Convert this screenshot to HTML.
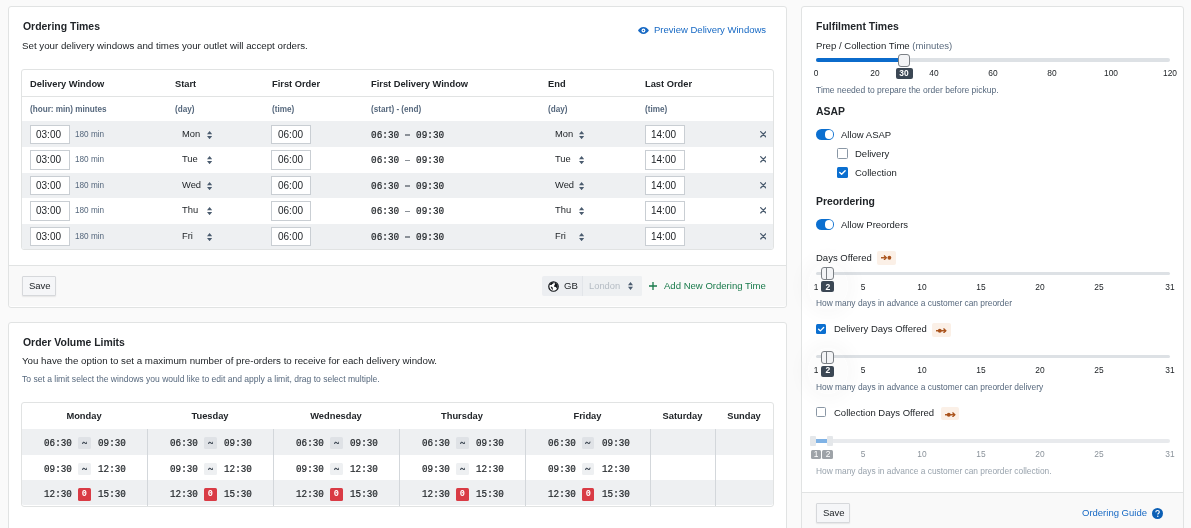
<!DOCTYPE html>
<html><head><meta charset="utf-8"><style>
html,body{margin:0;padding:0;background:#fafafa;width:1191px;height:528px;overflow:hidden;font-family:"Liberation Sans",sans-serif;}
.t{position:absolute;white-space:pre;line-height:20px;height:20px;will-change:transform;}
.b{position:absolute;}
</style></head><body>
<div class="b" style="left:8px;top:6px;width:779px;height:302px;background:#fff;border:1px solid #e1e3e3;border-radius:3px;box-sizing:border-box"></div>
<div class="b" style="left:9px;top:265px;width:777px;height:41px;background:#f9f9f9;border-top:1px solid #e1e3e3;border-radius:0 0 2px 2px;box-sizing:border-box"></div>
<div class="t" style="left:22.5px;top:17.38px;font-size:10.45px;font-weight:bold;color:#212529;font-family:'Liberation Sans', sans-serif;">Ordering Times</div>
<div class="t" style="left:22px;top:35.63px;font-size:9.72px;font-weight:normal;color:#212529;font-family:'Liberation Sans', sans-serif;">Set your delivery windows and times your outlet will accept orders.</div>
<svg class="b" style="left:637.9px;top:26.8px" width="10.9" height="7" viewBox="0 0 22 14"><path d="M11 0C6 0 2.2 3.6 0 7c2.2 3.4 6 7 11 7s8.8-3.6 11-7C19.8 3.6 16 0 11 0z" fill="#1769c4"/><circle cx="11" cy="7" r="3.9" fill="#fff"/><circle cx="11" cy="7" r="1.5" fill="#1769c4"/></svg>
<div class="t" style="left:653.7px;top:19.70px;font-size:9.53px;font-weight:normal;color:#1769c4;font-family:'Liberation Sans', sans-serif;">Preview Delivery Windows</div>
<div class="b" style="left:21px;top:69px;width:753px;height:181px;background:#fff;border:1px solid #e1e3e3;border-radius:3px;box-sizing:border-box"></div>
<div class="b" style="left:22px;top:96px;width:751px;height:1px;background:#e1e3e3"></div>
<div class="t" style="left:30px;top:74.28px;font-size:9.3px;font-weight:bold;color:#212529;font-family:'Liberation Sans', sans-serif;">Delivery Window</div>
<div class="t" style="left:30px;top:100.17px;font-size:8.16px;font-weight:bold;color:#56687d;font-family:'Liberation Sans', sans-serif;">(hour: min) minutes</div>
<div class="t" style="left:175.4px;top:74.28px;font-size:9.3px;font-weight:bold;color:#212529;font-family:'Liberation Sans', sans-serif;">Start</div>
<div class="t" style="left:175.4px;top:100.17px;font-size:8.16px;font-weight:bold;color:#56687d;font-family:'Liberation Sans', sans-serif;">(day)</div>
<div class="t" style="left:272px;top:74.28px;font-size:9.3px;font-weight:bold;color:#212529;font-family:'Liberation Sans', sans-serif;">First Order</div>
<div class="t" style="left:272px;top:100.17px;font-size:8.16px;font-weight:bold;color:#56687d;font-family:'Liberation Sans', sans-serif;">(time)</div>
<div class="t" style="left:371.4px;top:74.28px;font-size:9.3px;font-weight:bold;color:#212529;font-family:'Liberation Sans', sans-serif;">First Delivery Window</div>
<div class="t" style="left:371.4px;top:100.17px;font-size:8.16px;font-weight:bold;color:#56687d;font-family:'Liberation Sans', sans-serif;">(start) - (end)</div>
<div class="t" style="left:548.4px;top:74.28px;font-size:9.3px;font-weight:bold;color:#212529;font-family:'Liberation Sans', sans-serif;">End</div>
<div class="t" style="left:548.4px;top:100.17px;font-size:8.16px;font-weight:bold;color:#56687d;font-family:'Liberation Sans', sans-serif;">(day)</div>
<div class="t" style="left:645px;top:74.28px;font-size:9.3px;font-weight:bold;color:#212529;font-family:'Liberation Sans', sans-serif;">Last Order</div>
<div class="t" style="left:645px;top:100.17px;font-size:8.16px;font-weight:bold;color:#56687d;font-family:'Liberation Sans', sans-serif;">(time)</div>
<div class="b" style="left:22px;top:121px;width:751px;height:26px;background:#eef0f2"></div>
<div class="b" style="left:30px;top:124.65px;width:40px;height:19.6px;background:#fff;border:1px solid #c9ced3;box-sizing:border-box"></div>
<div class="t" style="left:36.2px;top:124.94px;font-size:10px;font-weight:normal;color:#212529;font-family:'Liberation Sans', sans-serif;">03:00</div>
<div class="b" style="left:271px;top:124.65px;width:40px;height:19.6px;background:#fff;border:1px solid #c9ced3;box-sizing:border-box"></div>
<div class="t" style="left:278.4px;top:124.94px;font-size:10px;font-weight:normal;color:#212529;font-family:'Liberation Sans', sans-serif;">06:00</div>
<div class="b" style="left:645px;top:124.65px;width:40px;height:19.6px;background:#fff;border:1px solid #c9ced3;box-sizing:border-box"></div>
<div class="t" style="left:651.2px;top:124.94px;font-size:10px;font-weight:normal;color:#212529;font-family:'Liberation Sans', sans-serif;">14:00</div>
<div class="t" style="left:74.6px;top:125.16px;font-size:8.2px;font-weight:normal;color:#56687d;font-family:'Liberation Sans', sans-serif;">180 min</div>
<div class="t" style="left:181.8px;top:123.76px;font-size:9.36px;font-weight:normal;color:#212529;font-family:'Liberation Sans', sans-serif;">Mon</div>
<svg class="b" style="left:206.6px;top:130.65px" width="5.2" height="8.2" viewBox="0 0 52 82"><path d="M26 0L52 32H0z M26 82L52 50H0z" fill="#4b5c6f"/></svg>
<div class="t" style="left:554.5px;top:123.76px;font-size:9.36px;font-weight:normal;color:#212529;font-family:'Liberation Sans', sans-serif;">Mon</div>
<svg class="b" style="left:579.3px;top:130.65px" width="5.2" height="8.2" viewBox="0 0 52 82"><path d="M26 0L52 32H0z M26 82L52 50H0z" fill="#4b5c6f"/></svg>
<div class="t" style="left:371px;top:125.99px;font-size:9.4px;font-weight:normal;color:#212529;font-family:'Liberation Mono', monospace;transform:scaleY(1.12);transform-origin:0 14px;-webkit-text-stroke:0.2px #212529">06:30   09:30</div>
<div class="b" style="left:405px;top:134.45px;width:5.2px;height:1.4px;background:#8a9097"></div>
<svg class="b" style="left:759.8px;top:130.95px" width="6.6" height="6.6" viewBox="0 0 10 10"><path d="M1 1L9 9M9 1L1 9" stroke="#4b5c6f" stroke-width="1.9" stroke-linecap="round"/></svg>
<div class="b" style="left:30px;top:150.15px;width:40px;height:19.6px;background:#fff;border:1px solid #c9ced3;box-sizing:border-box"></div>
<div class="t" style="left:36.2px;top:149.94px;font-size:10px;font-weight:normal;color:#212529;font-family:'Liberation Sans', sans-serif;">03:00</div>
<div class="b" style="left:271px;top:150.15px;width:40px;height:19.6px;background:#fff;border:1px solid #c9ced3;box-sizing:border-box"></div>
<div class="t" style="left:278.4px;top:149.94px;font-size:10px;font-weight:normal;color:#212529;font-family:'Liberation Sans', sans-serif;">06:00</div>
<div class="b" style="left:645px;top:150.15px;width:40px;height:19.6px;background:#fff;border:1px solid #c9ced3;box-sizing:border-box"></div>
<div class="t" style="left:651.2px;top:149.94px;font-size:10px;font-weight:normal;color:#212529;font-family:'Liberation Sans', sans-serif;">14:00</div>
<div class="t" style="left:74.6px;top:150.16px;font-size:8.2px;font-weight:normal;color:#56687d;font-family:'Liberation Sans', sans-serif;">180 min</div>
<div class="t" style="left:181.8px;top:148.76px;font-size:9.36px;font-weight:normal;color:#212529;font-family:'Liberation Sans', sans-serif;">Tue</div>
<svg class="b" style="left:206.6px;top:156.15px" width="5.2" height="8.2" viewBox="0 0 52 82"><path d="M26 0L52 32H0z M26 82L52 50H0z" fill="#4b5c6f"/></svg>
<div class="t" style="left:554.5px;top:148.76px;font-size:9.36px;font-weight:normal;color:#212529;font-family:'Liberation Sans', sans-serif;">Tue</div>
<svg class="b" style="left:579.3px;top:156.15px" width="5.2" height="8.2" viewBox="0 0 52 82"><path d="M26 0L52 32H0z M26 82L52 50H0z" fill="#4b5c6f"/></svg>
<div class="t" style="left:371px;top:150.99px;font-size:9.4px;font-weight:normal;color:#212529;font-family:'Liberation Mono', monospace;transform:scaleY(1.12);transform-origin:0 14px;-webkit-text-stroke:0.2px #212529">06:30   09:30</div>
<div class="b" style="left:405px;top:159.95px;width:5.2px;height:1.4px;background:#8a9097"></div>
<svg class="b" style="left:759.8px;top:156.45px" width="6.6" height="6.6" viewBox="0 0 10 10"><path d="M1 1L9 9M9 1L1 9" stroke="#4b5c6f" stroke-width="1.9" stroke-linecap="round"/></svg>
<div class="b" style="left:22px;top:172.5px;width:751px;height:25.5px;background:#eef0f2"></div>
<div class="b" style="left:30px;top:175.65px;width:40px;height:19.6px;background:#fff;border:1px solid #c9ced3;box-sizing:border-box"></div>
<div class="t" style="left:36.2px;top:175.94px;font-size:10px;font-weight:normal;color:#212529;font-family:'Liberation Sans', sans-serif;">03:00</div>
<div class="b" style="left:271px;top:175.65px;width:40px;height:19.6px;background:#fff;border:1px solid #c9ced3;box-sizing:border-box"></div>
<div class="t" style="left:278.4px;top:175.94px;font-size:10px;font-weight:normal;color:#212529;font-family:'Liberation Sans', sans-serif;">06:00</div>
<div class="b" style="left:645px;top:175.65px;width:40px;height:19.6px;background:#fff;border:1px solid #c9ced3;box-sizing:border-box"></div>
<div class="t" style="left:651.2px;top:175.94px;font-size:10px;font-weight:normal;color:#212529;font-family:'Liberation Sans', sans-serif;">14:00</div>
<div class="t" style="left:74.6px;top:176.16px;font-size:8.2px;font-weight:normal;color:#56687d;font-family:'Liberation Sans', sans-serif;">180 min</div>
<div class="t" style="left:181.8px;top:174.76px;font-size:9.36px;font-weight:normal;color:#212529;font-family:'Liberation Sans', sans-serif;">Wed</div>
<svg class="b" style="left:206.6px;top:181.65px" width="5.2" height="8.2" viewBox="0 0 52 82"><path d="M26 0L52 32H0z M26 82L52 50H0z" fill="#4b5c6f"/></svg>
<div class="t" style="left:554.5px;top:174.76px;font-size:9.36px;font-weight:normal;color:#212529;font-family:'Liberation Sans', sans-serif;">Wed</div>
<svg class="b" style="left:579.3px;top:181.65px" width="5.2" height="8.2" viewBox="0 0 52 82"><path d="M26 0L52 32H0z M26 82L52 50H0z" fill="#4b5c6f"/></svg>
<div class="t" style="left:371px;top:176.99px;font-size:9.4px;font-weight:normal;color:#212529;font-family:'Liberation Mono', monospace;transform:scaleY(1.12);transform-origin:0 14px;-webkit-text-stroke:0.2px #212529">06:30   09:30</div>
<div class="b" style="left:405px;top:185.45px;width:5.2px;height:1.4px;background:#8a9097"></div>
<svg class="b" style="left:759.8px;top:181.95px" width="6.6" height="6.6" viewBox="0 0 10 10"><path d="M1 1L9 9M9 1L1 9" stroke="#4b5c6f" stroke-width="1.9" stroke-linecap="round"/></svg>
<div class="b" style="left:30px;top:201.15px;width:40px;height:19.6px;background:#fff;border:1px solid #c9ced3;box-sizing:border-box"></div>
<div class="t" style="left:36.2px;top:200.94px;font-size:10px;font-weight:normal;color:#212529;font-family:'Liberation Sans', sans-serif;">03:00</div>
<div class="b" style="left:271px;top:201.15px;width:40px;height:19.6px;background:#fff;border:1px solid #c9ced3;box-sizing:border-box"></div>
<div class="t" style="left:278.4px;top:200.94px;font-size:10px;font-weight:normal;color:#212529;font-family:'Liberation Sans', sans-serif;">06:00</div>
<div class="b" style="left:645px;top:201.15px;width:40px;height:19.6px;background:#fff;border:1px solid #c9ced3;box-sizing:border-box"></div>
<div class="t" style="left:651.2px;top:200.94px;font-size:10px;font-weight:normal;color:#212529;font-family:'Liberation Sans', sans-serif;">14:00</div>
<div class="t" style="left:74.6px;top:201.16px;font-size:8.2px;font-weight:normal;color:#56687d;font-family:'Liberation Sans', sans-serif;">180 min</div>
<div class="t" style="left:181.8px;top:199.76px;font-size:9.36px;font-weight:normal;color:#212529;font-family:'Liberation Sans', sans-serif;">Thu</div>
<svg class="b" style="left:206.6px;top:207.15px" width="5.2" height="8.2" viewBox="0 0 52 82"><path d="M26 0L52 32H0z M26 82L52 50H0z" fill="#4b5c6f"/></svg>
<div class="t" style="left:554.5px;top:199.76px;font-size:9.36px;font-weight:normal;color:#212529;font-family:'Liberation Sans', sans-serif;">Thu</div>
<svg class="b" style="left:579.3px;top:207.15px" width="5.2" height="8.2" viewBox="0 0 52 82"><path d="M26 0L52 32H0z M26 82L52 50H0z" fill="#4b5c6f"/></svg>
<div class="t" style="left:371px;top:201.99px;font-size:9.4px;font-weight:normal;color:#212529;font-family:'Liberation Mono', monospace;transform:scaleY(1.12);transform-origin:0 14px;-webkit-text-stroke:0.2px #212529">06:30   09:30</div>
<div class="b" style="left:405px;top:210.95px;width:5.2px;height:1.4px;background:#8a9097"></div>
<svg class="b" style="left:759.8px;top:207.45px" width="6.6" height="6.6" viewBox="0 0 10 10"><path d="M1 1L9 9M9 1L1 9" stroke="#4b5c6f" stroke-width="1.9" stroke-linecap="round"/></svg>
<div class="b" style="left:22px;top:223.5px;width:751px;height:25.5px;background:#eef0f2;border-radius:0 0 2px 2px"></div>
<div class="b" style="left:30px;top:226.65px;width:40px;height:19.6px;background:#fff;border:1px solid #c9ced3;box-sizing:border-box"></div>
<div class="t" style="left:36.2px;top:226.94px;font-size:10px;font-weight:normal;color:#212529;font-family:'Liberation Sans', sans-serif;">03:00</div>
<div class="b" style="left:271px;top:226.65px;width:40px;height:19.6px;background:#fff;border:1px solid #c9ced3;box-sizing:border-box"></div>
<div class="t" style="left:278.4px;top:226.94px;font-size:10px;font-weight:normal;color:#212529;font-family:'Liberation Sans', sans-serif;">06:00</div>
<div class="b" style="left:645px;top:226.65px;width:40px;height:19.6px;background:#fff;border:1px solid #c9ced3;box-sizing:border-box"></div>
<div class="t" style="left:651.2px;top:226.94px;font-size:10px;font-weight:normal;color:#212529;font-family:'Liberation Sans', sans-serif;">14:00</div>
<div class="t" style="left:74.6px;top:227.16px;font-size:8.2px;font-weight:normal;color:#56687d;font-family:'Liberation Sans', sans-serif;">180 min</div>
<div class="t" style="left:181.8px;top:225.76px;font-size:9.36px;font-weight:normal;color:#212529;font-family:'Liberation Sans', sans-serif;">Fri</div>
<svg class="b" style="left:206.6px;top:232.65px" width="5.2" height="8.2" viewBox="0 0 52 82"><path d="M26 0L52 32H0z M26 82L52 50H0z" fill="#4b5c6f"/></svg>
<div class="t" style="left:554.5px;top:225.76px;font-size:9.36px;font-weight:normal;color:#212529;font-family:'Liberation Sans', sans-serif;">Fri</div>
<svg class="b" style="left:579.3px;top:232.65px" width="5.2" height="8.2" viewBox="0 0 52 82"><path d="M26 0L52 32H0z M26 82L52 50H0z" fill="#4b5c6f"/></svg>
<div class="t" style="left:371px;top:227.99px;font-size:9.4px;font-weight:normal;color:#212529;font-family:'Liberation Mono', monospace;transform:scaleY(1.12);transform-origin:0 14px;-webkit-text-stroke:0.2px #212529">06:30   09:30</div>
<div class="b" style="left:405px;top:236.45px;width:5.2px;height:1.4px;background:#8a9097"></div>
<svg class="b" style="left:759.8px;top:232.95px" width="6.6" height="6.6" viewBox="0 0 10 10"><path d="M1 1L9 9M9 1L1 9" stroke="#4b5c6f" stroke-width="1.9" stroke-linecap="round"/></svg>
<div class="b" style="left:22.2px;top:276.2px;width:33.6px;height:19.4px;background:#f5f6f8;border:1px solid #d6d8db;border-radius:1px;box-sizing:border-box;box-shadow:0 1px 1.5px rgba(0,0,0,.08)"></div>
<div class="t" style="left:29.0px;top:275.71px;font-size:9.5px;font-weight:normal;color:#212529;font-family:'Liberation Sans', sans-serif;">Save</div>
<div class="b" style="left:542px;top:276px;width:100px;height:19.6px;background:#eceef1;border-radius:2px"></div>
<div class="b" style="left:582.4px;top:276px;width:59.6px;height:19.6px;background:#eef0f2;border-left:1px solid #e2e5e9;box-sizing:border-box;border-radius:0 2px 2px 0"></div>
<svg class="b" style="left:547.8px;top:280.8px" width="11" height="11" viewBox="0 0 20 20"><circle cx="10" cy="10" r="8.6" fill="#fff" stroke="#111418" stroke-width="2.2"/><path d="M3 7C4 4 6.5 2.5 9.5 2.2L10.5 3.5C9.5 5 8 4.8 7.2 6.2 6.4 7.6 4.6 7.4 3 7z" fill="#111418"/><path d="M12.5 3C15 3.8 17 5.8 17.6 8.5 17.8 10.5 17.5 12.5 16.5 14 15.5 13 15 11.5 13.8 11 12.6 10.4 11.2 10.8 10.8 9.6 10.4 8.4 12 7.8 12.4 6.6 12.8 5.4 11.8 4.2 12.5 3z" fill="#111418"/><path d="M5 10.5C6.5 10 8 11 8.6 12.4 9 13.6 8.2 15 8.8 16.4 7.4 16 6.6 14.6 6.2 13.2 5.8 12.2 4.8 11.6 5 10.5z" fill="#111418"/></svg>
<div class="t" style="left:563.9px;top:275.67px;font-size:9.6px;font-weight:normal;color:#212529;font-family:'Liberation Sans', sans-serif;">GB</div>
<div class="t" style="left:589.4px;top:275.76px;font-size:9.35px;font-weight:normal;color:#b5bcc4;font-family:'Liberation Sans', sans-serif;">London</div>
<svg class="b" style="left:627.6px;top:281.5px" width="5" height="8" viewBox="0 0 52 82"><path d="M26 0L52 32H0z M26 82L52 50H0z" fill="#4b5c6f"/></svg>
<svg class="b" style="left:649.4px;top:281.6px" width="8" height="8" viewBox="0 0 8 8"><path d="M4 0V8M0 4H8" stroke="#197a4b" stroke-width="1.3"/></svg>
<div class="t" style="left:663.8px;top:275.69px;font-size:9.56px;font-weight:normal;color:#197a4b;font-family:'Liberation Sans', sans-serif;">Add New Ordering Time</div>
<div class="b" style="left:8px;top:322px;width:779px;height:220px;background:#fff;border:1px solid #e1e3e3;border-radius:3px;box-sizing:border-box"></div>
<div class="t" style="left:22.6px;top:333.38px;font-size:10.45px;font-weight:bold;color:#212529;font-family:'Liberation Sans', sans-serif;">Order Volume Limits</div>
<div class="t" style="left:22px;top:350.63px;font-size:9.72px;font-weight:normal;color:#212529;font-family:'Liberation Sans', sans-serif;">You have the option to set a maximum number of pre-orders to receive for each delivery window.</div>
<div class="t" style="left:22px;top:369.03px;font-size:8.56px;font-weight:normal;color:#56687d;font-family:'Liberation Sans', sans-serif;">To set a limit select the windows you would like to edit and apply a limit, drag to select multiple.</div>
<div class="b" style="left:21px;top:402px;width:753px;height:104.5px;background:#fff;border:1px solid #e1e3e3;border-radius:3px;box-sizing:border-box"></div>
<div class="b" style="left:22px;top:429px;width:751px;height:26px;background:#eef0f2"></div>
<div class="b" style="left:22px;top:480.3px;width:751px;height:25.2px;background:#eef0f2;border-radius:0 0 2px 2px"></div>
<div class="b" style="left:147px;top:429px;width:1px;height:76.5px;background:#d3d7db"></div>
<div class="b" style="left:273px;top:429px;width:1px;height:76.5px;background:#d3d7db"></div>
<div class="b" style="left:399px;top:429px;width:1px;height:76.5px;background:#d3d7db"></div>
<div class="b" style="left:525px;top:429px;width:1px;height:76.5px;background:#d3d7db"></div>
<div class="b" style="left:650px;top:429px;width:1px;height:76.5px;background:#d3d7db"></div>
<div class="b" style="left:715px;top:429px;width:1px;height:76.5px;background:#d3d7db"></div>
<div class="t" style="left:21px;width:126px;text-align:center;top:405.78px;font-size:9.3px;font-weight:bold;color:#212529">Monday</div>
<div class="t" style="left:147px;width:126px;text-align:center;top:405.78px;font-size:9.3px;font-weight:bold;color:#212529">Tuesday</div>
<div class="t" style="left:273px;width:126px;text-align:center;top:405.78px;font-size:9.3px;font-weight:bold;color:#212529">Wednesday</div>
<div class="t" style="left:399px;width:126px;text-align:center;top:405.78px;font-size:9.3px;font-weight:bold;color:#212529">Thursday</div>
<div class="t" style="left:525px;width:125px;text-align:center;top:405.78px;font-size:9.3px;font-weight:bold;color:#212529">Friday</div>
<div class="t" style="left:650px;width:65px;text-align:center;top:405.78px;font-size:9.3px;font-weight:bold;color:#212529">Saturday</div>
<div class="t" style="left:715px;width:58px;text-align:center;top:405.78px;font-size:9.3px;font-weight:bold;color:#212529">Sunday</div>
<div class="t" style="left:44.4px;top:434.02px;font-size:9.3px;font-weight:normal;color:#212529;font-family:'Liberation Mono', monospace;transform:scaleY(1.12);transform-origin:0 14px;-webkit-text-stroke:0.2px #212529">06:30</div>
<div class="b" style="left:78.2px;top:436.7px;width:12.6px;height:12.6px;background:#dfe2e6;border-radius:1.5px"></div>
<svg class="b" style="left:81.7px;top:440.70px" width="5.6" height="3.8" viewBox="0 0 56 38"><path d="M6 28C9 12 18 8 28 18S46 28 50 10" stroke="#3a4450" stroke-width="11" fill="none" stroke-linecap="round"/></svg>
<div class="t" style="left:98.0px;top:434.02px;font-size:9.3px;font-weight:normal;color:#212529;font-family:'Liberation Mono', monospace;transform:scaleY(1.12);transform-origin:0 14px;-webkit-text-stroke:0.2px #212529">09:30</div>
<div class="t" style="left:44.4px;top:460.02px;font-size:9.3px;font-weight:normal;color:#212529;font-family:'Liberation Mono', monospace;transform:scaleY(1.12);transform-origin:0 14px;-webkit-text-stroke:0.2px #212529">09:30</div>
<div class="b" style="left:78.2px;top:462.7px;width:12.6px;height:12.6px;background:#eef0f2;border-radius:1.5px"></div>
<svg class="b" style="left:81.7px;top:466.70px" width="5.6" height="3.8" viewBox="0 0 56 38"><path d="M6 28C9 12 18 8 28 18S46 28 50 10" stroke="#3a4450" stroke-width="11" fill="none" stroke-linecap="round"/></svg>
<div class="t" style="left:98.0px;top:460.02px;font-size:9.3px;font-weight:normal;color:#212529;font-family:'Liberation Mono', monospace;transform:scaleY(1.12);transform-origin:0 14px;-webkit-text-stroke:0.2px #212529">12:30</div>
<div class="t" style="left:44.4px;top:485.02px;font-size:9.3px;font-weight:normal;color:#212529;font-family:'Liberation Mono', monospace;transform:scaleY(1.12);transform-origin:0 14px;-webkit-text-stroke:0.2px #212529">12:30</div>
<div class="b" style="left:78.2px;top:488.3px;width:12.6px;height:12.4px;background:#d93b45;border-radius:1.5px"></div>
<div class="t" style="left:78.2px;width:12.6px;text-align:center;top:483.51px;font-size:8.6px;font-weight:bold;color:#fff;font-family:'Liberation Mono',monospace">0</div>
<div class="t" style="left:98.0px;top:485.02px;font-size:9.3px;font-weight:normal;color:#212529;font-family:'Liberation Mono', monospace;transform:scaleY(1.12);transform-origin:0 14px;-webkit-text-stroke:0.2px #212529">15:30</div>
<div class="t" style="left:170.4px;top:434.02px;font-size:9.3px;font-weight:normal;color:#212529;font-family:'Liberation Mono', monospace;transform:scaleY(1.12);transform-origin:0 14px;-webkit-text-stroke:0.2px #212529">06:30</div>
<div class="b" style="left:204.2px;top:436.7px;width:12.6px;height:12.6px;background:#dfe2e6;border-radius:1.5px"></div>
<svg class="b" style="left:207.7px;top:440.70px" width="5.6" height="3.8" viewBox="0 0 56 38"><path d="M6 28C9 12 18 8 28 18S46 28 50 10" stroke="#3a4450" stroke-width="11" fill="none" stroke-linecap="round"/></svg>
<div class="t" style="left:224.0px;top:434.02px;font-size:9.3px;font-weight:normal;color:#212529;font-family:'Liberation Mono', monospace;transform:scaleY(1.12);transform-origin:0 14px;-webkit-text-stroke:0.2px #212529">09:30</div>
<div class="t" style="left:170.4px;top:460.02px;font-size:9.3px;font-weight:normal;color:#212529;font-family:'Liberation Mono', monospace;transform:scaleY(1.12);transform-origin:0 14px;-webkit-text-stroke:0.2px #212529">09:30</div>
<div class="b" style="left:204.2px;top:462.7px;width:12.6px;height:12.6px;background:#eef0f2;border-radius:1.5px"></div>
<svg class="b" style="left:207.7px;top:466.70px" width="5.6" height="3.8" viewBox="0 0 56 38"><path d="M6 28C9 12 18 8 28 18S46 28 50 10" stroke="#3a4450" stroke-width="11" fill="none" stroke-linecap="round"/></svg>
<div class="t" style="left:224.0px;top:460.02px;font-size:9.3px;font-weight:normal;color:#212529;font-family:'Liberation Mono', monospace;transform:scaleY(1.12);transform-origin:0 14px;-webkit-text-stroke:0.2px #212529">12:30</div>
<div class="t" style="left:170.4px;top:485.02px;font-size:9.3px;font-weight:normal;color:#212529;font-family:'Liberation Mono', monospace;transform:scaleY(1.12);transform-origin:0 14px;-webkit-text-stroke:0.2px #212529">12:30</div>
<div class="b" style="left:204.2px;top:488.3px;width:12.6px;height:12.4px;background:#d93b45;border-radius:1.5px"></div>
<div class="t" style="left:204.2px;width:12.6px;text-align:center;top:483.51px;font-size:8.6px;font-weight:bold;color:#fff;font-family:'Liberation Mono',monospace">0</div>
<div class="t" style="left:224.0px;top:485.02px;font-size:9.3px;font-weight:normal;color:#212529;font-family:'Liberation Mono', monospace;transform:scaleY(1.12);transform-origin:0 14px;-webkit-text-stroke:0.2px #212529">15:30</div>
<div class="t" style="left:296.4px;top:434.02px;font-size:9.3px;font-weight:normal;color:#212529;font-family:'Liberation Mono', monospace;transform:scaleY(1.12);transform-origin:0 14px;-webkit-text-stroke:0.2px #212529">06:30</div>
<div class="b" style="left:330.2px;top:436.7px;width:12.6px;height:12.6px;background:#dfe2e6;border-radius:1.5px"></div>
<svg class="b" style="left:333.7px;top:440.70px" width="5.6" height="3.8" viewBox="0 0 56 38"><path d="M6 28C9 12 18 8 28 18S46 28 50 10" stroke="#3a4450" stroke-width="11" fill="none" stroke-linecap="round"/></svg>
<div class="t" style="left:350.0px;top:434.02px;font-size:9.3px;font-weight:normal;color:#212529;font-family:'Liberation Mono', monospace;transform:scaleY(1.12);transform-origin:0 14px;-webkit-text-stroke:0.2px #212529">09:30</div>
<div class="t" style="left:296.4px;top:460.02px;font-size:9.3px;font-weight:normal;color:#212529;font-family:'Liberation Mono', monospace;transform:scaleY(1.12);transform-origin:0 14px;-webkit-text-stroke:0.2px #212529">09:30</div>
<div class="b" style="left:330.2px;top:462.7px;width:12.6px;height:12.6px;background:#eef0f2;border-radius:1.5px"></div>
<svg class="b" style="left:333.7px;top:466.70px" width="5.6" height="3.8" viewBox="0 0 56 38"><path d="M6 28C9 12 18 8 28 18S46 28 50 10" stroke="#3a4450" stroke-width="11" fill="none" stroke-linecap="round"/></svg>
<div class="t" style="left:350.0px;top:460.02px;font-size:9.3px;font-weight:normal;color:#212529;font-family:'Liberation Mono', monospace;transform:scaleY(1.12);transform-origin:0 14px;-webkit-text-stroke:0.2px #212529">12:30</div>
<div class="t" style="left:296.4px;top:485.02px;font-size:9.3px;font-weight:normal;color:#212529;font-family:'Liberation Mono', monospace;transform:scaleY(1.12);transform-origin:0 14px;-webkit-text-stroke:0.2px #212529">12:30</div>
<div class="b" style="left:330.2px;top:488.3px;width:12.6px;height:12.4px;background:#d93b45;border-radius:1.5px"></div>
<div class="t" style="left:330.2px;width:12.6px;text-align:center;top:483.51px;font-size:8.6px;font-weight:bold;color:#fff;font-family:'Liberation Mono',monospace">0</div>
<div class="t" style="left:350.0px;top:485.02px;font-size:9.3px;font-weight:normal;color:#212529;font-family:'Liberation Mono', monospace;transform:scaleY(1.12);transform-origin:0 14px;-webkit-text-stroke:0.2px #212529">15:30</div>
<div class="t" style="left:422.4px;top:434.02px;font-size:9.3px;font-weight:normal;color:#212529;font-family:'Liberation Mono', monospace;transform:scaleY(1.12);transform-origin:0 14px;-webkit-text-stroke:0.2px #212529">06:30</div>
<div class="b" style="left:456.2px;top:436.7px;width:12.6px;height:12.6px;background:#dfe2e6;border-radius:1.5px"></div>
<svg class="b" style="left:459.7px;top:440.70px" width="5.6" height="3.8" viewBox="0 0 56 38"><path d="M6 28C9 12 18 8 28 18S46 28 50 10" stroke="#3a4450" stroke-width="11" fill="none" stroke-linecap="round"/></svg>
<div class="t" style="left:476.0px;top:434.02px;font-size:9.3px;font-weight:normal;color:#212529;font-family:'Liberation Mono', monospace;transform:scaleY(1.12);transform-origin:0 14px;-webkit-text-stroke:0.2px #212529">09:30</div>
<div class="t" style="left:422.4px;top:460.02px;font-size:9.3px;font-weight:normal;color:#212529;font-family:'Liberation Mono', monospace;transform:scaleY(1.12);transform-origin:0 14px;-webkit-text-stroke:0.2px #212529">09:30</div>
<div class="b" style="left:456.2px;top:462.7px;width:12.6px;height:12.6px;background:#eef0f2;border-radius:1.5px"></div>
<svg class="b" style="left:459.7px;top:466.70px" width="5.6" height="3.8" viewBox="0 0 56 38"><path d="M6 28C9 12 18 8 28 18S46 28 50 10" stroke="#3a4450" stroke-width="11" fill="none" stroke-linecap="round"/></svg>
<div class="t" style="left:476.0px;top:460.02px;font-size:9.3px;font-weight:normal;color:#212529;font-family:'Liberation Mono', monospace;transform:scaleY(1.12);transform-origin:0 14px;-webkit-text-stroke:0.2px #212529">12:30</div>
<div class="t" style="left:422.4px;top:485.02px;font-size:9.3px;font-weight:normal;color:#212529;font-family:'Liberation Mono', monospace;transform:scaleY(1.12);transform-origin:0 14px;-webkit-text-stroke:0.2px #212529">12:30</div>
<div class="b" style="left:456.2px;top:488.3px;width:12.6px;height:12.4px;background:#d93b45;border-radius:1.5px"></div>
<div class="t" style="left:456.2px;width:12.6px;text-align:center;top:483.51px;font-size:8.6px;font-weight:bold;color:#fff;font-family:'Liberation Mono',monospace">0</div>
<div class="t" style="left:476.0px;top:485.02px;font-size:9.3px;font-weight:normal;color:#212529;font-family:'Liberation Mono', monospace;transform:scaleY(1.12);transform-origin:0 14px;-webkit-text-stroke:0.2px #212529">15:30</div>
<div class="t" style="left:547.9px;top:434.02px;font-size:9.3px;font-weight:normal;color:#212529;font-family:'Liberation Mono', monospace;transform:scaleY(1.12);transform-origin:0 14px;-webkit-text-stroke:0.2px #212529">06:30</div>
<div class="b" style="left:581.7px;top:436.7px;width:12.6px;height:12.6px;background:#dfe2e6;border-radius:1.5px"></div>
<svg class="b" style="left:585.2px;top:440.70px" width="5.6" height="3.8" viewBox="0 0 56 38"><path d="M6 28C9 12 18 8 28 18S46 28 50 10" stroke="#3a4450" stroke-width="11" fill="none" stroke-linecap="round"/></svg>
<div class="t" style="left:601.5px;top:434.02px;font-size:9.3px;font-weight:normal;color:#212529;font-family:'Liberation Mono', monospace;transform:scaleY(1.12);transform-origin:0 14px;-webkit-text-stroke:0.2px #212529">09:30</div>
<div class="t" style="left:547.9px;top:460.02px;font-size:9.3px;font-weight:normal;color:#212529;font-family:'Liberation Mono', monospace;transform:scaleY(1.12);transform-origin:0 14px;-webkit-text-stroke:0.2px #212529">09:30</div>
<div class="b" style="left:581.7px;top:462.7px;width:12.6px;height:12.6px;background:#eef0f2;border-radius:1.5px"></div>
<svg class="b" style="left:585.2px;top:466.70px" width="5.6" height="3.8" viewBox="0 0 56 38"><path d="M6 28C9 12 18 8 28 18S46 28 50 10" stroke="#3a4450" stroke-width="11" fill="none" stroke-linecap="round"/></svg>
<div class="t" style="left:601.5px;top:460.02px;font-size:9.3px;font-weight:normal;color:#212529;font-family:'Liberation Mono', monospace;transform:scaleY(1.12);transform-origin:0 14px;-webkit-text-stroke:0.2px #212529">12:30</div>
<div class="t" style="left:547.9px;top:485.02px;font-size:9.3px;font-weight:normal;color:#212529;font-family:'Liberation Mono', monospace;transform:scaleY(1.12);transform-origin:0 14px;-webkit-text-stroke:0.2px #212529">12:30</div>
<div class="b" style="left:581.7px;top:488.3px;width:12.6px;height:12.4px;background:#d93b45;border-radius:1.5px"></div>
<div class="t" style="left:581.7px;width:12.6px;text-align:center;top:483.51px;font-size:8.6px;font-weight:bold;color:#fff;font-family:'Liberation Mono',monospace">0</div>
<div class="t" style="left:601.5px;top:485.02px;font-size:9.3px;font-weight:normal;color:#212529;font-family:'Liberation Mono', monospace;transform:scaleY(1.12);transform-origin:0 14px;-webkit-text-stroke:0.2px #212529">15:30</div>
<div class="b" style="left:801px;top:6px;width:383px;height:540px;background:#fff;border:1px solid #e1e3e3;border-radius:3px;box-sizing:border-box"></div>
<div class="b" style="left:802px;top:492px;width:381px;height:60px;background:#f9f9f9;border-top:1px solid #e1e3e3;box-sizing:border-box"></div>
<div class="t" style="left:816.4px;top:17.18px;font-size:10.45px;font-weight:bold;color:#212529;font-family:'Liberation Sans', sans-serif;">Fulfilment Times</div>
<div class="t" style="left:816.4px;top:35.68px;font-size:9.58px;font-weight:normal;color:#212529;font-family:'Liberation Sans', sans-serif;">Prep / Collection Time <span style="color:#5b6b7e">(minutes)</span></div>
<div class="b" style="left:816px;top:58px;width:354px;height:4px;background:#dde1e5;border-radius:2px"></div>
<div class="b" style="left:816px;top:58px;width:88px;height:4px;background:#0b6bcb;border-radius:2px 0 0 2px"></div>
<div class="t" style="left:796.0px;width:40px;text-align:center;top:63.09px;font-size:8.4px;color:#212529;font-weight:normal">0</div>
<div class="t" style="left:854.9166666666666px;width:40px;text-align:center;top:63.09px;font-size:8.4px;color:#212529;font-weight:normal">20</div>
<div class="t" style="left:913.8333333333334px;width:40px;text-align:center;top:63.09px;font-size:8.4px;color:#212529;font-weight:normal">40</div>
<div class="t" style="left:972.75px;width:40px;text-align:center;top:63.09px;font-size:8.4px;color:#212529;font-weight:normal">60</div>
<div class="t" style="left:1031.6666666666667px;width:40px;text-align:center;top:63.09px;font-size:8.4px;color:#212529;font-weight:normal">80</div>
<div class="t" style="left:1090.5833333333335px;width:40px;text-align:center;top:63.09px;font-size:8.4px;color:#212529;font-weight:normal">100</div>
<div class="t" style="left:1149.5px;width:40px;text-align:center;top:63.09px;font-size:8.4px;color:#212529;font-weight:normal">120</div>
<div class="b" style="left:898.2px;top:54.2px;width:11.7px;height:12.4px;background:#f3f4f6;border:1px solid #7b8085;border-radius:3px;box-sizing:border-box"></div>
<div class="b" style="left:895.8px;top:68.2px;width:17px;height:10.6px;background:#3b4754;border-radius:2px"></div>
<div class="t" style="left:884.2px;width:40px;text-align:center;top:63.09px;font-size:8.4px;color:#fff;font-weight:bold">30</div>
<div class="t" style="left:816px;top:80.05px;font-size:8.5px;font-weight:normal;color:#56687d;font-family:'Liberation Sans', sans-serif;">Time needed to prepare the order before pickup.</div>
<div class="t" style="left:816.1px;top:102.40px;font-size:10.4px;font-weight:bold;color:#212529;font-family:'Liberation Sans', sans-serif;">ASAP</div>
<div class="b" style="left:816px;top:129px;width:18px;height:11px;background:#0b6fd0;border-radius:6px"></div>
<div class="b" style="left:824.7px;top:130.2px;width:8.6px;height:8.6px;background:#fff;border-radius:50%"></div>
<div class="t" style="left:841.3px;top:124.71px;font-size:9.5px;font-weight:normal;color:#212529;font-family:'Liberation Sans', sans-serif;">Allow ASAP</div>
<div class="b" style="left:837px;top:148.1px;width:10.8px;height:10.8px;background:#fff;border:1px solid #8a97a5;border-radius:1.5px;box-sizing:border-box"></div>
<div class="t" style="left:854.7px;top:143.71px;font-size:9.5px;font-weight:normal;color:#212529;font-family:'Liberation Sans', sans-serif;">Delivery</div>
<div class="b" style="left:837px;top:166.8px;width:10.8px;height:10.8px;background:#0b6fd0;border-radius:1.5px"></div>
<svg class="b" style="left:837px;top:166.8px" width="10.8" height="10.8" viewBox="0 0 11 11"><path d="M2.8 5.6L4.7 7.4L8.3 3.8" stroke="#fff" stroke-width="1.4" fill="none" stroke-linecap="round" stroke-linejoin="round"/></svg>
<div class="t" style="left:854.7px;top:162.71px;font-size:9.5px;font-weight:normal;color:#212529;font-family:'Liberation Sans', sans-serif;">Collection</div>
<div class="t" style="left:816px;top:192.10px;font-size:10.4px;font-weight:bold;color:#212529;font-family:'Liberation Sans', sans-serif;">Preordering</div>
<div class="b" style="left:816px;top:219px;width:18px;height:11px;background:#0b6fd0;border-radius:6px"></div>
<div class="b" style="left:824.7px;top:220.2px;width:8.6px;height:8.6px;background:#fff;border-radius:50%"></div>
<div class="t" style="left:841.4px;top:214.71px;font-size:9.5px;font-weight:normal;color:#212529;font-family:'Liberation Sans', sans-serif;">Allow Preorders</div>
<div class="t" style="left:816px;top:247.71px;font-size:9.5px;font-weight:normal;color:#212529;font-family:'Liberation Sans', sans-serif;">Days Offered</div>
<div class="b" style="left:877.2px;top:251.1px;width:18.7px;height:13.5px;background:#fbf0e7;border-radius:2px"></div>
<svg class="b" style="left:881.0px;top:254.79999999999998px" width="11" height="5.5" viewBox="0 0 22 11"><path d="M0 5.5H9.5" stroke="#a9521b" stroke-width="2.8"/><path d="M6 1.2L10.5 5.5L6 9.8" stroke="#a9521b" stroke-width="2.8" fill="none"/><circle cx="16.8" cy="5.5" r="3.8" fill="#a9521b"/></svg>
<div class="b" style="left:816px;top:272.1px;width:354px;height:3.3px;background:#dde1e5;border-radius:2px"></div>
<div class="t" style="left:795.6px;width:40px;text-align:center;top:277.09px;font-size:8.4px;color:#212529;font-weight:normal">1</div>
<div class="t" style="left:843.1333333333333px;width:40px;text-align:center;top:277.09px;font-size:8.4px;color:#212529;font-weight:normal">5</div>
<div class="t" style="left:902.05px;width:40px;text-align:center;top:277.09px;font-size:8.4px;color:#212529;font-weight:normal">10</div>
<div class="t" style="left:960.9666666666667px;width:40px;text-align:center;top:277.09px;font-size:8.4px;color:#212529;font-weight:normal">15</div>
<div class="t" style="left:1019.8833333333332px;width:40px;text-align:center;top:277.09px;font-size:8.4px;color:#212529;font-weight:normal">20</div>
<div class="t" style="left:1078.8px;width:40px;text-align:center;top:277.09px;font-size:8.4px;color:#212529;font-weight:normal">25</div>
<div class="t" style="left:1149.5px;width:40px;text-align:center;top:277.09px;font-size:8.4px;color:#212529;font-weight:normal">31</div>
<div class="b" style="left:808px;top:263.2px;width:40px;height:46px;border-radius:50%;box-shadow:0 0 16px 8px rgba(0,0,0,.022);background:rgba(0,0,0,.012)"></div>
<div class="b" style="left:821.2px;top:267.1px;width:12.7px;height:12.6px;background:#f3f4f6;border:1px solid #7b8085;border-radius:3px;box-sizing:border-box"></div>
<div class="b" style="left:826.2px;top:267.1px;width:1px;height:12.6px;background:#7b8085"></div>
<div class="b" style="left:821.2px;top:281.2px;width:12.9px;height:11px;background:#3b4754;border-radius:2px"></div>
<div class="t" style="left:807.6px;width:40px;text-align:center;top:277.02px;font-size:8.6px;color:#fff;font-weight:bold">2</div>
<div class="t" style="left:816px;top:293.09px;font-size:8.4px;font-weight:normal;color:#56687d;font-family:'Liberation Sans', sans-serif;">How many days in advance a customer can preorder</div>
<div class="b" style="left:815.9px;top:324.2px;width:10.2px;height:10.2px;background:#0b6fd0;border-radius:1.5px"></div>
<svg class="b" style="left:815.9px;top:324.2px" width="10.2" height="10.2" viewBox="0 0 11 11"><path d="M2.8 5.6L4.7 7.4L8.3 3.8" stroke="#fff" stroke-width="1.4" fill="none" stroke-linecap="round" stroke-linejoin="round"/></svg>
<div class="t" style="left:833.5px;top:318.71px;font-size:9.5px;font-weight:normal;color:#212529;font-family:'Liberation Sans', sans-serif;">Delivery Days Offered</div>
<div class="b" style="left:932px;top:323.1px;width:18.9px;height:13.6px;background:#fbf0e7;border-radius:2px"></div>
<svg class="b" style="left:935.8px;top:327.5px" width="11" height="5.5" viewBox="0 0 22 11"><path d="M0 5.5H20" stroke="#a9521b" stroke-width="2.8"/><circle cx="7.5" cy="5.5" r="3.8" fill="#a9521b"/><path d="M15 1.2L19.5 5.5L15 9.8" stroke="#a9521b" stroke-width="2.8" fill="none"/></svg>
<div class="b" style="left:816px;top:355.2px;width:354px;height:3.3px;background:#dde1e5;border-radius:2px"></div>
<div class="t" style="left:795.6px;width:40px;text-align:center;top:360.09px;font-size:8.4px;color:#212529;font-weight:normal">1</div>
<div class="t" style="left:843.1333333333333px;width:40px;text-align:center;top:360.09px;font-size:8.4px;color:#212529;font-weight:normal">5</div>
<div class="t" style="left:902.05px;width:40px;text-align:center;top:360.09px;font-size:8.4px;color:#212529;font-weight:normal">10</div>
<div class="t" style="left:960.9666666666667px;width:40px;text-align:center;top:360.09px;font-size:8.4px;color:#212529;font-weight:normal">15</div>
<div class="t" style="left:1019.8833333333332px;width:40px;text-align:center;top:360.09px;font-size:8.4px;color:#212529;font-weight:normal">20</div>
<div class="t" style="left:1078.8px;width:40px;text-align:center;top:360.09px;font-size:8.4px;color:#212529;font-weight:normal">25</div>
<div class="t" style="left:1149.5px;width:40px;text-align:center;top:360.09px;font-size:8.4px;color:#212529;font-weight:normal">31</div>
<div class="b" style="left:808px;top:347.5px;width:40px;height:46px;border-radius:50%;box-shadow:0 0 16px 8px rgba(0,0,0,.022);background:rgba(0,0,0,.012)"></div>
<div class="b" style="left:821.2px;top:351.2px;width:12.7px;height:12.6px;background:#f3f4f6;border:1px solid #7b8085;border-radius:3px;box-sizing:border-box"></div>
<div class="b" style="left:826.2px;top:351.2px;width:1px;height:12.6px;background:#7b8085"></div>
<div class="b" style="left:821.2px;top:365.5px;width:12.9px;height:11px;background:#3b4754;border-radius:2px"></div>
<div class="t" style="left:807.6px;width:40px;text-align:center;top:360.02px;font-size:8.6px;color:#fff;font-weight:bold">2</div>
<div class="t" style="left:816px;top:377.09px;font-size:8.4px;font-weight:normal;color:#56687d;font-family:'Liberation Sans', sans-serif;">How many days in advance a customer can preorder delivery</div>
<div class="b" style="left:815.9px;top:407.3px;width:10.2px;height:10.2px;background:#fff;border:1px solid #8a97a5;border-radius:1.5px;box-sizing:border-box"></div>
<div class="t" style="left:833.5px;top:402.71px;font-size:9.5px;font-weight:normal;color:#212529;font-family:'Liberation Sans', sans-serif;">Collection Days Offered</div>
<div class="b" style="left:941.1px;top:407.1px;width:17.8px;height:12.6px;background:#fbf0e7;border-radius:2px"></div>
<svg class="b" style="left:944.9px;top:411.5px" width="11" height="5.5" viewBox="0 0 22 11"><path d="M0 5.5H20" stroke="#a9521b" stroke-width="2.8"/><circle cx="7.5" cy="5.5" r="3.8" fill="#a9521b"/><path d="M15 1.2L19.5 5.5L15 9.8" stroke="#a9521b" stroke-width="2.8" fill="none"/></svg>
<div class="b" style="left:816px;top:439.4px;width:354px;height:3.3px;background:#e8eaed;border-radius:2px"></div>
<div class="t" style="left:843.1333333333333px;width:40px;text-align:center;top:444.09px;font-size:8.4px;color:#8b939b;font-weight:normal">5</div>
<div class="t" style="left:902.05px;width:40px;text-align:center;top:444.09px;font-size:8.4px;color:#8b939b;font-weight:normal">10</div>
<div class="t" style="left:960.9666666666667px;width:40px;text-align:center;top:444.09px;font-size:8.4px;color:#8b939b;font-weight:normal">15</div>
<div class="t" style="left:1019.8833333333332px;width:40px;text-align:center;top:444.09px;font-size:8.4px;color:#8b939b;font-weight:normal">20</div>
<div class="t" style="left:1078.8px;width:40px;text-align:center;top:444.09px;font-size:8.4px;color:#8b939b;font-weight:normal">25</div>
<div class="t" style="left:1149.5px;width:40px;text-align:center;top:444.09px;font-size:8.4px;color:#8b939b;font-weight:normal">31</div>
<div class="b" style="left:815.8px;top:439.09999999999997px;width:11.1px;height:3.7px;background:#7fb2e5"></div>
<div class="b" style="left:810.1px;top:436px;width:5.7px;height:10px;background:#e4e7ea;border-radius:1px"></div>
<div class="b" style="left:826.9px;top:436px;width:5.7px;height:10px;background:#e4e7ea;border-radius:1px"></div>
<div class="b" style="left:810.7px;top:449.7px;width:10.6px;height:9.2px;background:#9ea3a8;border-radius:1.5px"></div>
<div class="b" style="left:822px;top:449.7px;width:11px;height:9.2px;background:#9ea3a8;border-radius:1.5px"></div>
<div class="t" style="left:796px;width:40px;text-align:center;top:444.09px;font-size:8.4px;color:#fff;font-weight:normal">1</div>
<div class="t" style="left:807.5px;width:40px;text-align:center;top:444.09px;font-size:8.4px;color:#fff;font-weight:normal">2</div>
<div class="t" style="left:816px;top:461.09px;font-size:8.4px;font-weight:normal;color:#99a3ad;font-family:'Liberation Sans', sans-serif;">How many days in advance a customer can preorder collection.</div>
<div class="b" style="left:816.2px;top:503.1px;width:33.4px;height:19.6px;background:#f5f6f8;border:1px solid #d6d8db;border-radius:1px;box-sizing:border-box;box-shadow:0 1px 1.5px rgba(0,0,0,.08)"></div>
<div class="t" style="left:822.6px;top:502.91px;font-size:9.5px;font-weight:normal;color:#212529;font-family:'Liberation Sans', sans-serif;">Save</div>
<div class="t" style="left:1082.2px;top:502.91px;font-size:9.5px;font-weight:normal;color:#1769c4;font-family:'Liberation Sans', sans-serif;">Ordering Guide</div>
<svg class="b" style="left:1151.8px;top:507.8px" width="11" height="11" viewBox="0 0 22 22"><circle cx="11" cy="11" r="11" fill="#0b5fb5"/><path d="M7.6 8.4c0-2 1.5-3.3 3.5-3.3s3.5 1.2 3.5 3c0 1.6-1 2.2-1.9 2.8-.8.5-1 .9-1 1.7v.5" stroke="#fff" stroke-width="2.3" fill="none"/><circle cx="11.6" cy="16.4" r="1.4" fill="#fff"/></svg>
</body></html>
